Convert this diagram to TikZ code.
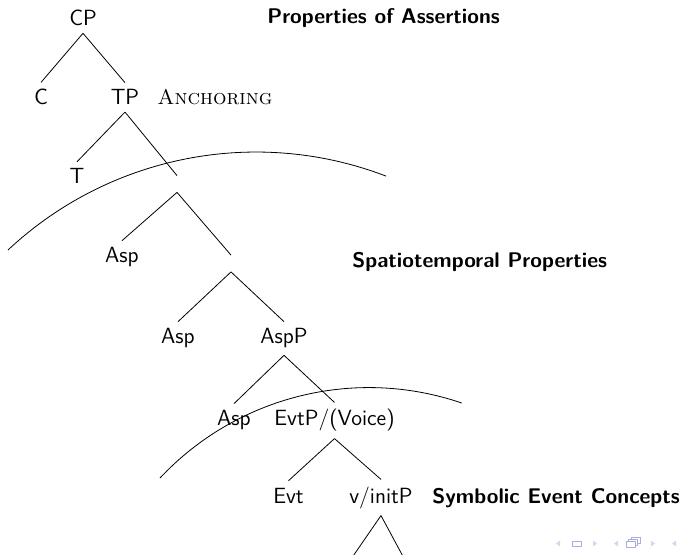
\documentclass[tikz,border=0pt]{standalone}
\usepackage{tikz}

\definecolor{navfg}{rgb}{0.68,0.68,0.88}
\definecolor{navdim}{rgb}{0.84,0.84,0.94}

\begin{document}
\begin{tikzpicture}[x=0.5pt,y=-0.5pt,
        lbl/.style={font=\sffamily\fontsize{11}{13}\selectfont, anchor=base},
        note/.style={font=\sffamily\bfseries\fontsize{10.6}{12.5}\selectfont, anchor=base west, inner sep=0pt},
        gapnode/.style={inner sep=0pt, minimum height=8pt, minimum width=0pt},
        navtri/.style={fill=navdim},
        navbox/.style={draw=navfg, line width=0.5pt, fill=white}]
        \useasboundingbox (0,0) rectangle (680,555);
        \clip (0,0) rectangle (680,555);

        % top of the tree
        \node[lbl] (cp) at (83,26) {CP};
        \node[lbl] (c) at (41,105) {C};
        \node[lbl] (tp) at (125,105) {TP};
        \node[anchor=base west, inner sep=0pt, font=\rmfamily\fontsize{10.6}{12.5}\selectfont] (anch) at (157,105) {\textsc{Anchoring}};
        \node[note] (assert) at (267,24) {Properties of Assertions};

        \node[lbl] (t) at (77,184) {T};
        \node[gapnode] (g1) at (177,184) {};
        \node[lbl] (asp1) at (122,263) {Asp};
        \node[gapnode] (g2) at (231,263.5) {};
        \node[note] (spatio) at (352,268) {Spatiotemporal Properties};

        \node[lbl] (asp2) at (178,344) {Asp};
        \node[lbl] (aspp) at (284,344) {AspP};

        \node[lbl] (asp3) at (234,426) {Asp};
        \node[lbl] (evtp) at (334.5,426) {EvtP/(Voice)};

        \node[lbl] (evt) at (288.5,503) {Evt};
        \node[lbl] (vinit) at (381,503) {v/initP};
        \node[note] (symb) at (432,503) {Symbolic Event Concepts};

        \coordinate (vl) at (349,562);
        \coordinate (vr) at (406,562);

        % branches
        \draw (cp.south) -- (c.north);
        \draw (cp.south) -- (tp.north);
        \draw (tp.south) -- (t.north);
        \draw (tp.south) -- (g1.north);
        \draw (g1.south) -- (asp1.north);
        \draw (g1.south) -- (g2.north);
        \draw (g2.south) -- (asp2.north);
        \draw (g2.south) -- (aspp.north);
        \draw (aspp.south) -- (asp3.north);
        \draw (aspp.south) -- (evtp.north);
        \draw (evtp.south) -- (evt.north);
        \draw (evtp.south) -- (vinit.north);
        \draw (vinit.south) -- (vl);
        \draw (vinit.south) -- (vr);

        % domain boundaries
        \draw (8,250) arc (-133.1:-69:363);
        \draw (160,478) arc (-136.8:-71.1:286.6);

        % navigation symbols
        \fill[navtri] (556,543.5) -- (560,540.5) -- (560,546.5) -- cycle;
        \draw[navbox] (572.5,541) rectangle (581.5,546.5);
        \fill[navtri] (597,543.5) -- (593,540.5) -- (593,546.5) -- cycle;

        \fill[navtri] (614,543.5) -- (618,540.5) -- (618,546.5) -- cycle;
        \draw[navbox] (631,537) rectangle (640,543);
        \draw[navbox] (628.5,539) rectangle (637.5,545);
        \draw[navbox] (626,541) rectangle (635,547);
        \fill[navtri] (655,543.5) -- (651,540.5) -- (651,546.5) -- cycle;

        \fill[navtri] (672,543.5) -- (676,540.5) -- (676,546.5) -- cycle;
    \end{tikzpicture}
\end{document}
